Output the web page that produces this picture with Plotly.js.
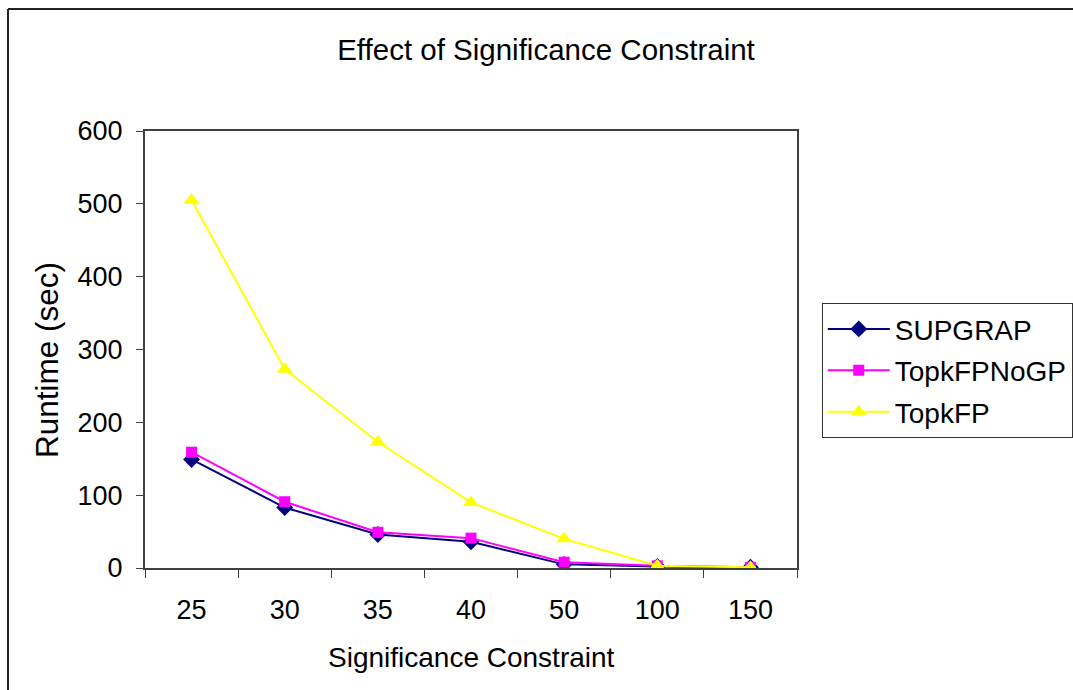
<!DOCTYPE html>
<html>
<head>
<meta charset="utf-8">
<script src="https://cdn.plot.ly/plotly-3.0.1.min.js"></script>
<style>html,body{margin:0;padding:0;background:#fff;}#chart{width:1073px;height:690px;}</style>
</head>
<body>
<div id="chart"></div>
<script>
var categories = ["25", "30", "35", "40", "50", "100", "150"];
var supgrap = [149, 83, 46, 36, 5, 2, 1];
var topkFPNoGP = [159, 91, 49, 41, 8, 3, 1];
var topkFP = [505, 273, 173, 90, 40, 3, 1];
var yTicks = [0, 100, 200, 300, 400, 500, 600];

var FONT = "Liberation Sans, Arial, sans-serif";

function trace(name, y, color, symbol, size) {
  return {
    x: categories, y: y, name: name, type: "scatter", mode: "lines+markers",
    line: {color: color, width: 2},
    marker: {color: color, symbol: symbol, size: size},
    legendgroup: name
  };
}

var data = [
  trace("SUPGRAP", supgrap, "#000080", "diamond", 13),
  trace("TopkFPNoGP", topkFPNoGP, "#FF00FF", "square", 11),
  trace("TopkFP", topkFP, "#FFFF00", "triangle-up", 14)
];

var layout = {
  width: 1073, height: 690,
  margin: {l: 145, r: 276, t: 131, b: 122, autoexpand: false},
  paper_bgcolor: "#fff", plot_bgcolor: "#fff",
  font: {family: FONT, color: "#000", size: 27},
  showlegend: true,
  legend: {
    x: 1.038, y: 0.606, xanchor: "left", yanchor: "top",
    bordercolor: "#333", borderwidth: 1, bgcolor: "#fff",
    font: {family: FONT, size: 28, color: "#000"},
    tracegroupgap: 2,
    itemwidth: 62
  },
  title: {
    text: "Effect of Significance Constraint",
    x: 546 / 1073, xref: "container", xanchor: "center",
    y: 1 - 50 / 690, yref: "container", yanchor: "middle",
    font: {family: FONT, size: 29.5, color: "#000"}
  },
  xaxis: {
    type: "category", range: [-0.5, 6.5],
    tickson: "boundaries", ticks: "outside", ticklen: 8, tickcolor: "#404040", tickwidth: 1,
    showline: true, linecolor: "#404040", linewidth: 2, mirror: true,
    showgrid: false, zeroline: false,
    tickfont: {family: FONT, size: 27, color: "#000"},
    ticklabelstandoff: 17
  },
  yaxis: {
    range: [0, 600], tickvals: yTicks, ticktext: yTicks.map(String),
    ticks: "outside", ticklen: 7, tickcolor: "#404040", tickwidth: 1,
    showline: true, linecolor: "#404040", linewidth: 2, mirror: true,
    showgrid: false, zeroline: false,
    tickfont: {family: FONT, size: 27, color: "#000"},
    ticklabelstandoff: 8
  },
  annotations: [
    {text: "Significance Constraint", xref: "paper", yref: "paper",
     x: 0.5, y: (568 - 657) / 437, xanchor: "center", yanchor: "middle",
     showarrow: false, font: {family: FONT, size: 28, color: "#000"}},
    {text: "Runtime (sec)", xref: "paper", yref: "paper", textangle: -90,
     x: (47 - 145) / 652, y: (568 - 360) / 437, xanchor: "center", yanchor: "middle",
     showarrow: false, font: {family: FONT, size: 31.5, color: "#000"}}
  ],
  shapes: [
    {type: "line", xref: "paper", yref: "paper",
     x0: (8 - 145) / 652, x1: (8 - 145) / 652, y0: (568 - 9) / 437, y1: (568 - 720) / 437,
     line: {color: "#222", width: 2}},
    {type: "line", xref: "paper", yref: "paper",
     x0: (8 - 145) / 652, x1: (1100 - 145) / 652, y0: (568 - 9) / 437, y1: (568 - 9) / 437,
     line: {color: "#222", width: 2}}
  ]
};

Plotly.newPlot("chart", data, layout, {displayModeBar: false, staticPlot: true});
</script>
</body>
</html>
